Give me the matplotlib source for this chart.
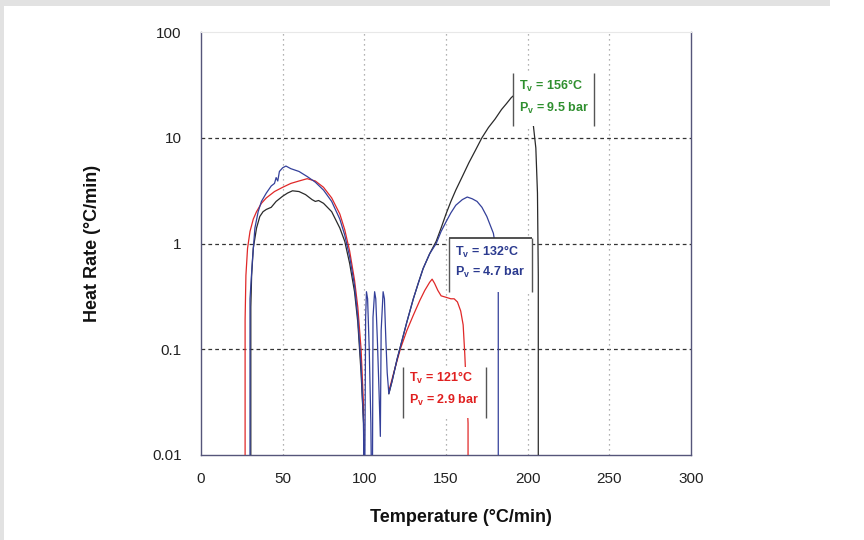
import matplotlib
matplotlib.use("Agg")
import matplotlib.pyplot as plt
from matplotlib.patches import Rectangle

plt.rcParams['font.family'] = ['Liberation Sans', 'DejaVu Sans']
plt.rcParams['mathtext.default'] = 'regular'

nan = float('nan')

# curve data (temperature in C, heat rate in C/min); 0.001 = drop off the bottom, nan = gap
red_t = [27, 27, 27.5, 28.5, 30, 32, 34, 37, 40, 45, 50, 55, 60, 65, 70, 75, 80, 85, 88, 91,
         94, 96, 98, 99.5, 100.5, nan, 115, 118, 122, 126, 130, 134, 137, 140, 141.5, 143,
         145, 147, 150, 153, 155, 157, 159, 160.5, 161.5, 162, 163, 163.5, 163.5]
red_r = [0.001, 0.19, 0.5, 0.9, 1.3, 1.7, 2.0, 2.4, 2.7, 3.1, 3.4, 3.7, 3.9, 4.1, 3.9, 3.4, 2.7,
         1.9, 1.35, 0.85, 0.45, 0.25, 0.1, 0.03, 0.001, nan, 0.04, 0.06, 0.1, 0.15, 0.21,
         0.29, 0.36, 0.43, 0.46, 0.42, 0.36, 0.32, 0.31, 0.30, 0.30, 0.28, 0.23, 0.17, 0.09,
         0.06, 0.03, 0.02, 0.001]

blue_t = [30, 30, 30.5, 31.5, 33, 35, 37, 40, 43, 45, 46, 47, 48, 50, 52, 55, 60, 65, 70, 75,
          80, 85, 88, 91, 94, 96, 98, 99.5, 100, 100.8, 101.3, 102, 103, 104, 104.8, 105.3,
          106.3, 107, 108, 109, 109.8, 110.3, 111.5, 112.3, 113.2, 114, 115, 117, 120, 123,
          126, 130, 133, 136, 140, 144, 147, 150, 153, 156, 160, 163, 166, 169, 172, 175, 177,
          179, 180.5, 181.5, 182, 182]
blue_r = [0.001, 0.3, 0.4, 0.7, 1.4, 2.0, 2.5, 3.0, 3.5, 3.7, 4.2, 3.9, 4.8, 5.2, 5.4, 5.1, 4.8,
          4.3, 3.8, 3.2, 2.5, 1.7, 1.2, 0.75, 0.4, 0.2, 0.07, 0.02, 0.001, 0.2, 0.35, 0.3, 0.1,
          0.02, 0.001, 0.2, 0.35, 0.3, 0.12, 0.04, 0.015, 0.15, 0.35, 0.3, 0.12, 0.06, 0.038,
          0.05, 0.08, 0.12, 0.18, 0.3, 0.42, 0.58, 0.8, 1.0, 1.3, 1.6, 1.95, 2.3, 2.6, 2.75,
          2.65, 2.5, 2.2, 1.8, 1.5, 1.25, 0.9, 0.5, 0.34, 0.001]

black_t = [30.5, 30.5, 31, 32, 34, 36, 38, 40, 43, 46, 50, 53, 56, 60, 64, 68, 70, 72, 75, 80,
           85, 88, 91, 94, 96, 98, 99.5, 100.5, nan, 115, 117, 120, 123, 126, 130, 133, 136,
           140, 144, 147, 150, 153, 156, 160, 164, 168, 172, 176, 180, 184, 187, 190, 192, 195,
           199, 202, 203.5, 205, 206, 206.5, 206.5]
black_r = [0.001, 0.25, 0.5, 0.9, 1.4, 1.8, 2.0, 2.1, 2.2, 2.5, 2.8, 3.0, 3.15, 3.1, 2.9, 2.6,
           2.5, 2.55, 2.4, 2.0, 1.4, 1.05, 0.65, 0.35, 0.18, 0.06, 0.02, 0.001, nan, 0.038,
           0.05, 0.08, 0.12, 0.18, 0.3, 0.42, 0.58, 0.8, 1.05, 1.4, 1.9, 2.5, 3.2, 4.3, 5.8,
           7.6, 10, 12.5, 15, 18.5, 21, 24, 25.5, 25.5, 23, 17, 13, 8, 3, 0.5, 0.001]

x_ticks = [0, 50, 100, 150, 200, 250, 300]
y_ticks = [0.01, 0.1, 1, 10, 100]
y_tick_labels = ['0.01', '0.1', '1', '10', '100']

green_label = [r'T$_v$ = 156°C', r'P$_v$ = 9.5 bar']
blue_label = [r'T$_v$ = 132°C', r'P$_v$ = 4.7 bar']
red_label = [r'T$_v$ = 121°C', r'P$_v$ = 2.9 bar']

fig = plt.figure(figsize=(8.64, 5.4), dpi=100)
fig.add_artist(Rectangle((0, 1 - 6/540), 830/864, 6/540, transform=fig.transFigure,
                         color='#e2e2e2', lw=0))
fig.add_artist(Rectangle((0, 0), 4/864, 1, transform=fig.transFigure, color='#e2e2e2', lw=0))
ax = fig.add_axes([201/864, 1 - 455/540, 490/864, 423/540])

ax.plot(red_t, red_r, color='#e02828', lw=0.9, zorder=3)
ax.plot(black_t, black_r, color='#2a2a2a', lw=0.9, zorder=3)
ax.plot(blue_t, blue_r, color='#34409a', lw=0.9, zorder=4)

ax.set_yscale('log')
ax.set_xlim(0, 300)
ax.set_ylim(0.01, 100)
ax.set_xticks(x_ticks)
ax.set_yticks(y_ticks)
ax.set_yticklabels(y_tick_labels)
ax.minorticks_off()
ax.tick_params(length=0, labelsize=11, colors='#222222')
ax.tick_params(axis='y', pad=14)
ax.tick_params(axis='x', pad=12)

for yv in y_ticks[1:-1]:
    ax.axhline(yv, color='#333333', lw=0.9, ls=(0, (3, 2.5)), zorder=1)
for xv in x_ticks[1:-1]:
    ax.axvline(xv, color='#999999', lw=0.9, ls=(0, (1, 3)), zorder=1)

for s in ['left', 'bottom', 'right']:
    ax.spines[s].set_color('#55557a')
    ax.spines[s].set_linewidth(1.0)
ax.spines['top'].set_color('#e8e8e8')

ax.set_ylabel('Heat Rate (°C/min)', fontsize=13, fontweight='bold', color='#111111')
ax.yaxis.set_label_coords(-0.205, 0.5)
ax.set_xlabel('Temperature (°C/min)', fontsize=13, fontweight='bold', color='#111111')
ax.xaxis.set_label_coords(0.53, -0.128)


def label_box(x0, x1, y0, y1, lines, color, ty1, ty2, top_line=False):
    ax.add_patch(Rectangle((x0, y0), x1 - x0, y1 - y0, facecolor='white', edgecolor='none',
                           zorder=5))
    ax.vlines([x0, x1], y0, y1, color='#555555', lw=1.0, zorder=6)
    if top_line:
        ax.hlines(y1, x0, x1, color='#333333', lw=1.2, zorder=6)
    ax.text(x0 + 3.5, ty1, lines[0], color=color, fontsize=9, fontweight='bold',
            va='center', zorder=7)
    ax.text(x0 + 3.5, ty2, lines[1], color=color, fontsize=9, fontweight='bold',
            va='center', zorder=7)


label_box(191.1, 240.7, 12.9, 40.9, green_label, '#2f8f2f', 30.8, 19.1)
label_box(151.9, 202.7, 0.347, 1.13, blue_label, '#2b3a8f', 0.83, 0.53, top_line=True)
label_box(123.7, 174.5, 0.0224, 0.068, red_label, '#e02020', 0.0535, 0.033)

fig.savefig('out.png', dpi=100)
